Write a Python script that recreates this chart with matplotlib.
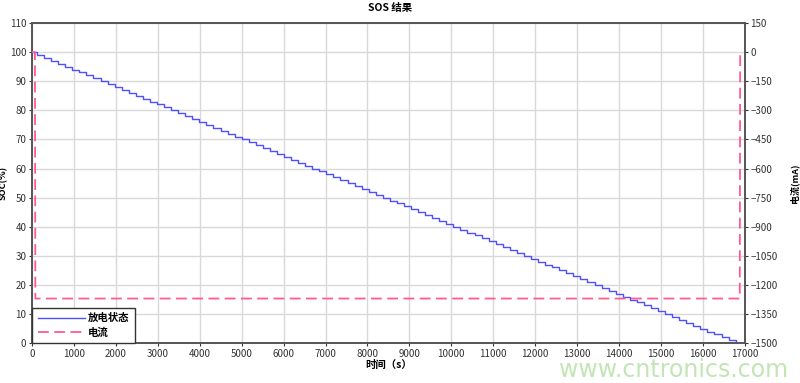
import matplotlib
matplotlib.use("Agg")
import matplotlib.pyplot as plt
from matplotlib.lines import Line2D

plt.rcParams['font.family'] = ['Noto Sans CJK SC', 'DejaVu Sans']

# ---- data ----
soc_levels = [100, 99, 98, 97, 96, 95, 94, 93, 92, 91,
              90, 89, 88, 87, 86, 85, 84, 83, 82, 81,
              80, 79, 78, 77, 76, 75, 74, 73, 72, 71,
              70, 69, 68, 67, 66, 65, 64, 63, 62, 61,
              60, 59, 58, 57, 56, 55, 54, 53, 52, 51,
              50, 49, 48, 47, 46, 45, 44, 43, 42, 41,
              40, 39, 38, 37, 36, 35, 34, 33, 32, 31,
              30, 29, 28, 27, 26, 25, 24, 23, 22, 21,
              20, 19, 18, 17, 16, 15, 14, 13, 12, 11,
              10, 9, 8, 7, 6, 5, 4, 3, 2, 1, 0, 0]
soc_times = [0, 120, 288, 457, 625, 793, 962, 1130, 1298, 1466,
             1635, 1803, 1971, 2140, 2308, 2476, 2645, 2813, 2981, 3149,
             3318, 3486, 3654, 3823, 3991, 4159, 4328, 4496, 4664, 4832,
             5001, 5169, 5337, 5506, 5674, 5842, 6011, 6179, 6347, 6515,
             6684, 6852, 7020, 7189, 7357, 7525, 7694, 7862, 8030, 8198,
             8367, 8535, 8703, 8872, 9040, 9208, 9377, 9545, 9713, 9881,
             10050, 10218, 10386, 10555, 10723, 10891, 11060, 11228, 11396, 11564,
             11733, 11901, 12069, 12238, 12406, 12574, 12743, 12911, 13079, 13247,
             13416, 13584, 13752, 13921, 14089, 14257, 14426, 14594, 14762, 14930,
             15099, 15267, 15435, 15604, 15772, 15940, 16109, 16277, 16445, 16613,
             16782, 16950]

cur_times = [0, 70, 80, 16880, 16890]
cur_values = [0, 0, -1270, -1270, 0]

x_ticks = [0, 1000, 2000, 3000, 4000, 5000, 6000, 7000, 8000, 9000,
           10000, 11000, 12000, 13000, 14000, 15000, 16000, 17000]
left_ticks = [0, 10, 20, 30, 40, 50, 60, 70, 80, 90, 100, 110]
right_ticks = [150, 0, -150, -300, -450, -600, -750, -900, -1050, -1200, -1350, -1500]

title = "SOS 结果"
xlabel = "时间（s）"
ylabel_left = "SOC(%)"
ylabel_right = "电流(mA)"
legend_labels = ["放电状态", "电流"]

blue = "#5050ff"
pink = "#ff5a93"
tick_color = "#333333"

fig = plt.figure(figsize=(8.0, 3.83), dpi=100)
ax = fig.add_axes([0.04, 0.104, 0.891, 0.836])
ax2 = ax.twinx()

ax.step(soc_times, soc_levels, where='post', color=blue, lw=1.0, zorder=3)
ax2.plot(cur_times, cur_values, color=pink, lw=1.3, ls=(0, (6, 3)), zorder=3)

ax.set_xlim(0, 17000)
ax.set_ylim(0, 110)
ax2.set_ylim(-1500, 150)
ax.set_xticks(x_ticks)
ax.set_yticks(left_ticks)
ax2.set_yticks(right_ticks)

ax.grid(True, color="#d9d9d9", lw=1.0)
ax.set_axisbelow(True)

for a in (ax, ax2):
    a.tick_params(labelsize=7, colors=tick_color, length=2, width=0.8, pad=2)
    for s in a.spines.values():
        s.set_color("#555555")
        s.set_linewidth(1.2)

ax.set_xlabel(xlabel, fontsize=7.5, fontweight='bold', labelpad=1)
ax.set_ylabel(ylabel_left, fontsize=6.5, fontweight='bold')
ax.yaxis.set_label_coords(-0.034, 0.5)
ax2.set_ylabel(ylabel_right, fontsize=6.5, fontweight='bold', rotation=90)
ax2.yaxis.set_label_coords(1.062, 0.5)
fig.text(0.487, 0.978, title, fontsize=7.5, fontweight='bold', ha='center', va='center')

handles = [Line2D([0], [0], color=blue, lw=1.0),
           Line2D([0], [0], color=pink, lw=1.3, ls=(0, (6, 3)))]
leg = ax2.legend(handles, legend_labels, loc='lower left', bbox_to_anchor=(0, 0),
                 fontsize=7.5, frameon=True, fancybox=False, borderaxespad=0,
                 handlelength=4.5, handletextpad=0.3, labelspacing=0.35,
                 borderpad=0.55)
leg.get_frame().set_edgecolor("#333333")
leg.get_frame().set_linewidth(1.0)
leg.get_frame().set_alpha(1)
for t in leg.get_texts():
    t.set_fontweight('bold')
leg.set_zorder(5)

fig.text(0.985, 0.035, "www.cntronics.com", fontsize=17, color="#c2e5b4",
         ha='right', va='center', family=['DejaVu Sans'])

fig.savefig("out.png", dpi=100)
